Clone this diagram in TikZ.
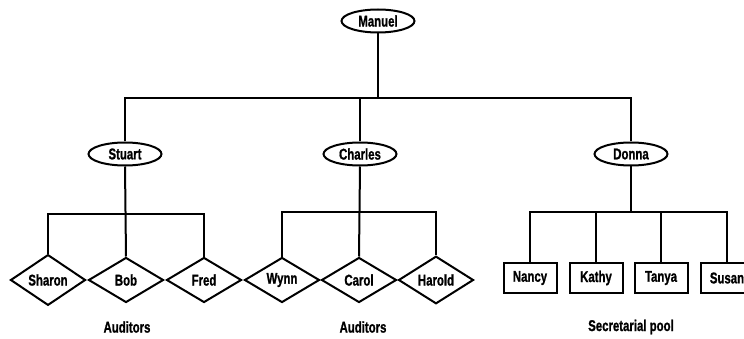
\documentclass[tikz,border=0pt]{standalone}
\usepackage{fontspec}
\setmainfont{Liberation Sans}[BoldFeatures={FakeBold=1.2}]
\usetikzlibrary{shapes.geometric}
\newcommand{\lbl}[1]{\scalebox{0.95}[1.3]{#1}}
\tikzset{
  every node/.style={font=\fontsize{12}{14}\selectfont\bfseries},
  conn/.style={line width=2pt},
  boss/.style={ellipse, draw, line width=2pt, minimum width=73pt, minimum height=23pt, inner sep=0pt},
  auditor/.style={diamond, draw, line width=2pt, minimum width=75pt, minimum height=45pt, inner sep=0pt},
  secretary/.style={rectangle, draw, line width=2pt, minimum width=53pt, minimum height=30pt, inner sep=0pt},
  caption/.style={inner sep=0pt}
}
\begin{document}
\begin{tikzpicture}[x=1pt,y=-1pt]
\useasboundingbox (0,0) rectangle (744,339);
\node[boss] (Manuel) at (378,21) {\lbl{Manuel}};
\node[boss] (Stuart) at (125,154) {\lbl{Stuart}};
\node[boss] (Charles) at (360,154) {\lbl{Charles}};
\node[boss] (Donna) at (631,154) {\lbl{Donna}};
\node[auditor] (Sharon) at (48,280) {\lbl{Sharon}};
\node[auditor] (Bob) at (126,280) {\lbl{Bob}};
\node[auditor] (Fred) at (204,280) {\lbl{Fred}};
\node[auditor] (Wynn) at (282,280) {\lbl{Wynn}};
\node[auditor] (Carol) at (359,280) {\lbl{Carol}};
\node[auditor] (Harold) at (436,280) {\lbl{Harold}};
\node[secretary] (Nancy) at (530,278) {\lbl{Nancy}};
\node[secretary] (Kathy) at (596,278) {\lbl{Kathy}};
\node[secretary] (Tanya) at (661,278) {\lbl{Tanya}};
\node[secretary] (Susan) at (727,278) {\lbl{Susan}};
\node[caption] (cap1) at (127,327) {\lbl{Auditors}};
\node[caption] (cap2) at (363,327) {\lbl{Auditors}};
\node[caption] (cap3) at (631,327) {\lbl{Secretarial pool}};
\coordinate (b0) at (378,98);
\coordinate (b1) at (126,214);
\coordinate (b2) at (359,212);
\coordinate (b3) at (631,212);
\draw[conn] (Manuel.south) -- (Manuel.south |- b0);
\draw[conn] (Stuart.north) -- (Stuart.north |- b0) -- (Donna.north |- b0) -- (Donna.north);
\draw[conn] (Charles.north) -- (Charles.north |- b0);
\draw[conn] (Stuart.south) -- (Bob.north);
\draw[conn] (Sharon.north) -- (Sharon.north |- b1) -- (Fred.north |- b1) -- (Fred.north);
\draw[conn] (Charles.south) -- (Carol.north);
\draw[conn] (Wynn.north) -- (Wynn.north |- b2) -- (Harold.north |- b2) -- (Harold.north);
\draw[conn] (Donna.south) -- (Donna.south |- b3);
\draw[conn] (Nancy.north) -- (Nancy.north |- b3) -- (Susan.north |- b3) -- (Susan.north);
\draw[conn] (Kathy.north) -- (Kathy.north |- b3);
\draw[conn] (Tanya.north) -- (Tanya.north |- b3);
\end{tikzpicture}
\end{document}
